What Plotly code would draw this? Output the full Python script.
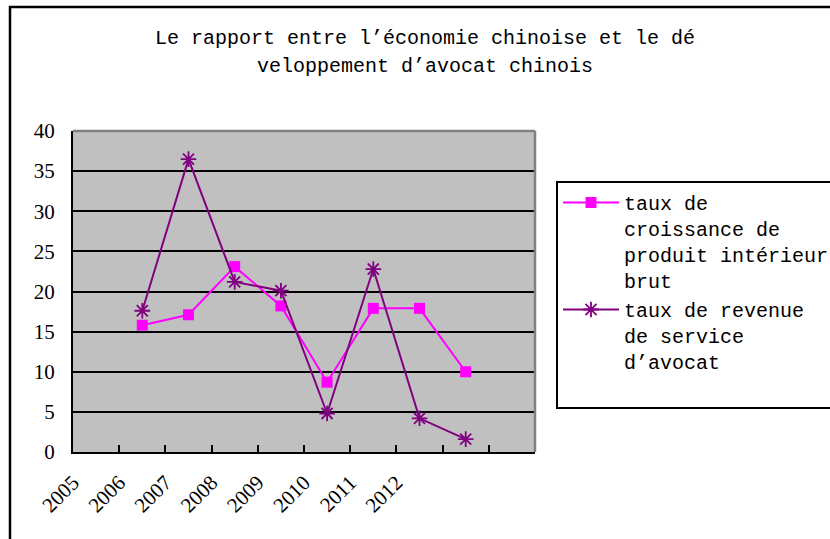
import plotly.graph_objects as go

# ---- data ----
years = ["2005", "2006", "2007", "2008", "2009", "2010", "2011", "2012"]
point_pos = [1, 2, 3, 4, 5, 6, 7, 8]
gdp_growth = [15.8, 17.1, 23.1, 18.2, 8.7, 17.9, 17.9, 10.0]
lawyer_revenue = [17.6, 36.5, 21.2, 20.1, 4.8, 22.8, 4.2, 1.6]
boundaries = [-0.5, 0.5, 1.5, 2.5, 3.5, 4.5, 5.5, 6.5, 7.5, 8.5, 9.5]
y_ticks = [0, 5, 10, 15, 20, 25, 30, 35, 40]

name1 = "taux de<br>croissance de<br>produit intérieur<br>brut"
name2 = "taux de revenue<br>de service<br>d’avocat<br> "

MONO = "Liberation Mono"
SERIF = "Liberation Serif"

W, H = 830, 539
PL, PR, PT, PB = 73, 535, 131, 452  # plot area in page pixels
pw, ph = PR - PL, PB - PT


def px(xp):
    return (xp - PL) / pw


def py(yp):
    return (PB - yp) / ph


fig = go.Figure()
fig.add_trace(go.Scatter(
    x=point_pos, y=gdp_growth, name=name1, mode="lines+markers",
    line=dict(color="#FF00FF", width=2),
    marker=dict(symbol="square", size=11, color="#FF00FF"),
))
fig.add_trace(go.Scatter(
    x=point_pos, y=lawyer_revenue, name=name2, mode="lines+markers",
    line=dict(color="#800080", width=2),
    marker=dict(symbol="asterisk-open", size=13, color="#800080",
                line=dict(color="#800080", width=1.8)),
))

ticktext = years + [""] * (len(boundaries) - len(years))

fig.update_layout(
    width=W, height=H,
    margin=dict(l=PL, r=W - PR, t=PT, b=H - PB, autoexpand=False),
    paper_bgcolor="white",
    plot_bgcolor="#C0C0C0",
    showlegend=True,
    legend=dict(
        x=px(556), y=py(181), xanchor="left", yanchor="top",
        bordercolor="black", borderwidth=2, bgcolor="white",
        font=dict(family=MONO, size=20, color="black"),
        valign="top", itemwidth=56, tracegroupgap=6,
    ),
    xaxis=dict(
        range=[-0.5, 9.5], tickvals=boundaries, ticktext=ticktext,
        tickangle=-45, ticks="inside", ticklen=7, tickwidth=2, tickcolor="black",
        showline=True, linecolor="black", linewidth=2, showgrid=False,
        zeroline=False, tickfont=dict(family=SERIF, size=21, color="black"),
        ticklabelstandoff=8, automargin=False,
    ),
    yaxis=dict(
        range=[0, 40], tickvals=y_ticks, ticks="inside", ticklen=6, tickwidth=2,
        tickcolor="black", showline=True, linecolor="black", linewidth=2,
        showgrid=True, gridcolor="black", gridwidth=2, zeroline=False,
        tickfont=dict(family=SERIF, size=21, color="black"),
        ticklabelstandoff=12, automargin=False,
    ),
)

# plot-area top/right gray border
fig.add_shape(type="line", xref="paper", yref="paper", x0=0, x1=1, y0=1, y1=1,
              line=dict(color="#808080", width=2.5), layer="above")
fig.add_shape(type="line", xref="paper", yref="paper", x0=1, x1=1, y0=0, y1=1,
              line=dict(color="#808080", width=2.5), layer="above")

# outer chart border (left and top visible)
fig.add_shape(type="rect", xref="paper", yref="paper",
              x0=px(10), x1=3, y0=py(7), y1=-2,
              line=dict(color="black", width=2.5), layer="above")

# title (two lines)
fig.add_annotation(text="Le rapport entre l’économie chinoise et le dé",
                   xref="paper", yref="paper", x=px(425), y=py(38),
                   xanchor="center", yanchor="middle", showarrow=False,
                   font=dict(family=MONO, size=20, color="black"))
fig.add_annotation(text="veloppement d’avocat chinois",
                   xref="paper", yref="paper", x=px(425), y=py(66),
                   xanchor="center", yanchor="middle", showarrow=False,
                   font=dict(family=MONO, size=20, color="black"))

fig.write_html(
    "out.html",
    config={"displayModeBar": False},
    post_script="document.body.style.margin='0';document.body.style.overflow='hidden';",
)
